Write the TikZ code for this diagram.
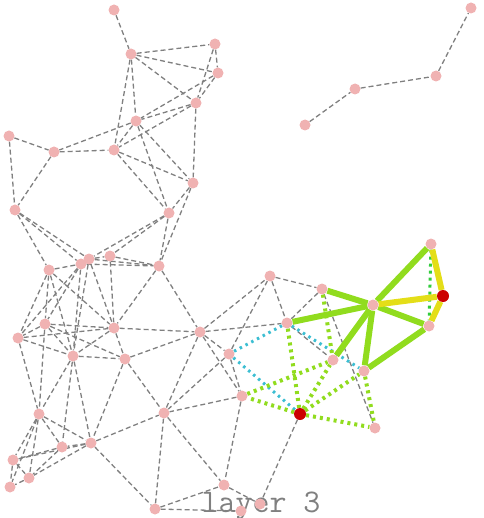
\documentclass[tikz,border=0pt]{standalone}
\usepackage{fontspec}
\usepackage{xcolor}
\usetikzlibrary{backgrounds}

\definecolor{nodepink}{RGB}{240,178,178}
\definecolor{nodered}{RGB}{204,0,0}
\definecolor{limeA}{RGB}{145,220,30}
\definecolor{yellowA}{RGB}{228,222,24}
\definecolor{greenB}{RGB}{50,205,60}
\definecolor{cyanA}{RGB}{60,190,210}
\definecolor{edgegray}{RGB}{128,128,128}

\tikzset{
  vtx/.style={circle,fill=nodepink,inner sep=0pt,minimum size=11pt},
  hit/.style={circle,fill=nodered,inner sep=0pt,minimum size=12pt},
  grayedge/.style={edgegray,line width=1.3pt,dash pattern=on 5pt off 3pt},
  limeedge/.style={limeA,line width=6pt},
  yellowedge/.style={yellowA,line width=6pt},
  limedots/.style={limeA,line width=4pt,dash pattern=on 3pt off 4pt},
  greendots/.style={greenB,line width=3pt,dash pattern=on 3pt off 4pt},
  cyandots/.style={cyanA,line width=3pt,dash pattern=on 2.5pt off 4pt}
}

\begin{document}
\begin{tikzpicture}[x=1pt,y=-1pt]
  \useasboundingbox (0,0) rectangle (483,518);
  \foreach \i/\x/\y in {1/114/10,2/131/54,3/215/44,4/218/73,5/196/103,6/136/121,
      7/9/136,8/54/152,9/114/150,10/193/183,11/15/210,12/169/213,
      13/49/270,14/81/264,15/89/259,16/110/256,17/159/266,18/45/324,19/18/338,
      20/114/328,21/73/356,22/125/359,23/200/332,24/229/354,25/242/396,
      26/39/414,27/164/413,28/91/443,29/62/447,30/13/460,31/29/478,32/10/487,
      33/224/485,34/155/509,35/241/511,36/260/504,
      37/270/276,38/322/289,39/287/323,40/333/360,41/364/371,42/375/428,
      43/373/305,44/431/244,45/429/326,46/471/8,47/436/76,48/355/89,49/305/125}
    \node[vtx] (n\i) at (\x,\y) {};
  \node[hit] (r1) at (443,296) {};
  \node[hit] (r2) at (300,414) {};
  \begin{scope}[on background layer]
    \node[text=edgegray,font=\ttfamily\fontsize{33}{34}\selectfont,anchor=base] (lbl) at (261,512) {layer 3};
    \foreach \a/\b in {1/2,2/3,2/4,2/5,2/6,2/9,3/4,3/5,4/5,4/6,5/6,5/9,6/9,6/8,8/9,7/8,7/11,8/11,
        5/10,6/10,6/12,9/10,9/12,10/12,10/17,12/17,12/15,12/16,11/13,11/14,11/15,
        49/48,48/47,47/46,
        13/14,14/15,15/16,14/17,15/17,16/17,13/19,13/18,13/20,13/21,14/18,14/19,14/21,
        15/21,15/20,16/20,17/20,17/23,18/19,18/20,18/22,18/21,18/26,19/20,19/21,19/26,
        20/21,20/22,20/23,21/22,21/26,21/28,21/29,22/23,22/27,22/28,
        23/24,23/25,23/27,23/37,23/39,24/25,24/27,24/37,25/27,25/33,
        26/28,26/29,26/30,26/31,26/32,28/29,28/30,28/31,28/27,28/34,29/30,29/31,
        30/31,30/32,31/32,27/33,27/34,34/33,34/35,33/36,
        37/38,37/39,38/39,38/42,39/40}
      \draw[grayedge] (n\a) -- (n\b);
    \draw[grayedge] (r2) -- (n36);
    \foreach \a/\b in {39/41,24/39}
      \draw[cyandots] (n\a) -- (n\b);
    \draw[cyandots] (n24) -- (r2);
    \foreach \a/\b in {38/40,25/40,41/42}
      \draw[limedots] (n\a) -- (n\b);
    \foreach \b in {39,25,40,41,42}
      \draw[limedots] (r2) -- (n\b);
    \draw[greendots] (n44) -- (n45);
    \foreach \a/\b in {43/44,43/38,43/39,43/40,43/41,43/45,41/45}
      \draw[limeedge] (n\a) -- (n\b);
    \foreach \b in {44,43,45}
      \draw[yellowedge] (r1) -- (n\b);
  \end{scope}
\end{tikzpicture}
\end{document}
